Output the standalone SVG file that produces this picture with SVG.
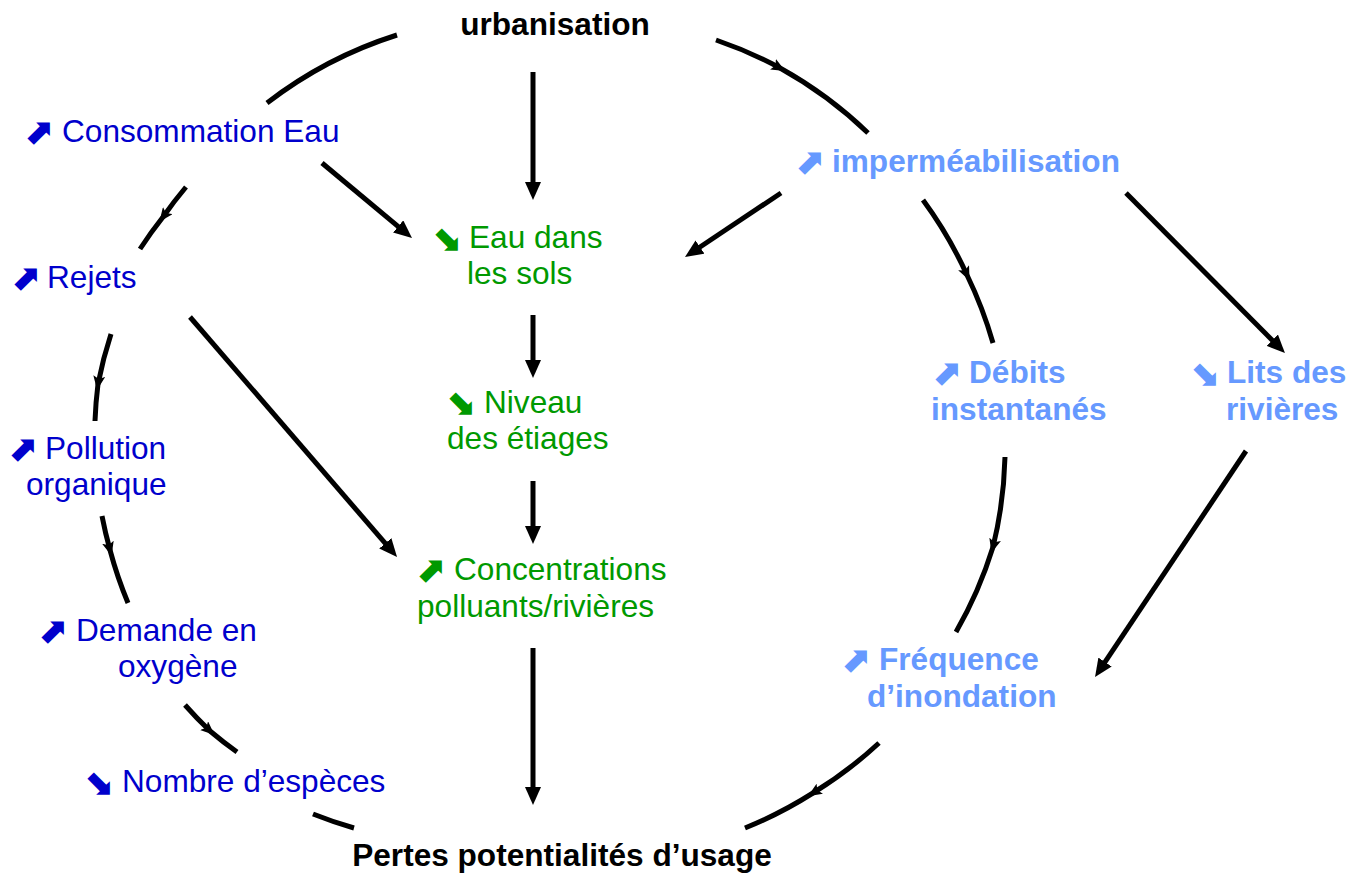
<svg xmlns="http://www.w3.org/2000/svg" width="1358" height="874" viewBox="0 0 1358 874">
<style>
text{font-family:"Liberation Sans",Arial,sans-serif;font-size:31.6px}
.b{font-weight:bold}
.k{fill:#000}
.db{fill:#0000CC}
.gr{fill:#009900}
.lb{fill:#6699FF;font-weight:bold}
.g{font-family:"DejaVu Sans",sans-serif;font-size:36px;font-weight:bold}
.ln{fill:none;stroke:#000;stroke-width:5}
.st{marker-end:url(#ah)}
.arc{marker-mid:url(#mid)}
</style>
<defs>
<marker id="ah" viewBox="0 0 18 16" refX="8" refY="8" markerWidth="18" markerHeight="16" markerUnits="userSpaceOnUse" orient="auto"><path d="M0,0 L18,8 L0,16 z" fill="#000"/></marker>
<marker id="mid" viewBox="0 0 14 12" refX="8" refY="6" markerWidth="14" markerHeight="12" markerUnits="userSpaceOnUse" orient="auto"><path d="M0,0 L14,6 L0,12 L3,6 z" fill="#000"/></marker>
</defs>
<g id="connectors">
<path class="ln st" d="M533,72 L533,190"/>
<path class="ln st" d="M322,163 L404.3,231.6"/>
<path class="ln st" d="M781,193 L693.3,251.5"/>
<path class="ln st" d="M533,315 L533,368"/>
<path class="ln st" d="M533,481 L533,534"/>
<path class="ln st" d="M533,648 L533,795"/>
<path class="ln st" d="M190,317 L390.5,549.4"/>
<path class="ln st" d="M1126,193 L1277.9,345.9"/>
<path class="ln st" d="M1246,451 L1100.6,668.7"/>
<path class="ln" d="M397,35 A421,421 0 0 0 267,103"/>
<path class="ln arc" d="M186,187 A421,421 0 0 0 163,217 A421,421 0 0 0 140,249"/>
<path class="ln arc" d="M111,334 A421,421 0 0 0 98,384 A421,421 0 0 0 95,421"/>
<path class="ln arc" d="M102,516 A421,421 0 0 0 110,550 A421,421 0 0 0 128,603"/>
<path class="ln arc" d="M185,705 A421,421 0 0 0 210,731 A421,421 0 0 0 237,752"/>
<path class="ln" d="M313,814 A421,421 0 0 0 354,828"/>
<path class="ln arc" d="M716,40 A420,420 0 0 1 780,68 A420,420 0 0 1 868,133"/>
<path class="ln arc" d="M923,200 A420,420 0 0 1 967,275 A420,420 0 0 1 993,343"/>
<path class="ln arc" d="M1005,457 A420,420 0 0 1 993,547 A420,420 0 0 1 956,632"/>
<path class="ln arc" d="M879,743 A420,420 0 0 1 813,793 A420,420 0 0 1 745,828"/>
</g>
<g id="urbanisation"><text class="b k" x="555" y="35" text-anchor="middle">urbanisation</text></g>
<g id="consommation"><text class="g db" x="23" y="144">⬈</text><text class="db" x="62" y="142">Consommation Eau</text></g>
<g id="rejets"><text class="g db" x="10" y="290">⬈</text><text class="db" x="47" y="288">Rejets</text></g>
<g id="pollution"><text class="g db" x="7" y="461">⬈</text><text class="db" x="45" y="459">Pollution</text><text class="db" x="26" y="495">organique</text></g>
<g id="demande"><text class="g db" x="37" y="643">⬈</text><text class="db" x="76" y="641">Demande en</text><text class="db" x="118" y="677">oxygène</text></g>
<g id="especes"><text class="g db" x="83" y="794">⬊</text><text class="db" x="122" y="792">Nombre d’espèces</text></g>
<g id="eau-sols"><text class="g gr" x="431" y="250">⬊</text><text class="gr" x="469" y="248">Eau dans</text><text class="gr" x="467" y="284">les sols</text></g>
<g id="niveau"><text class="g gr" x="445" y="414">⬊</text><text class="gr" x="484" y="413">Niveau</text><text class="gr" x="447" y="449">des étiages</text></g>
<g id="concentrations"><text class="g gr" x="415" y="582">⬈</text><text class="gr" x="454" y="580">Concentrations</text><text class="gr" x="417" y="617">polluants/rivières</text></g>
<g id="pertes"><text class="b k" x="562" y="866" text-anchor="middle">Pertes potentialités d’usage</text></g>
<g id="impermeabilisation"><text class="g lb" x="794" y="174">⬈</text><text class="lb" x="832" y="172">imperméabilisation</text></g>
<g id="debits"><text class="g lb" x="931" y="385">⬈</text><text class="lb" x="969" y="383">Débits</text><text class="lb" x="931" y="420">instantanés</text></g>
<g id="lits"><text class="g lb" x="1189" y="385">⬊</text><text class="lb" x="1227" y="383">Lits des</text><text class="lb" x="1226" y="420">rivières</text></g>
<g id="frequence"><text class="g lb" x="840" y="672">⬈</text><text class="lb" x="879" y="670">Fréquence</text><text class="lb" x="867" y="707">d’inondation</text></g>
</svg>
